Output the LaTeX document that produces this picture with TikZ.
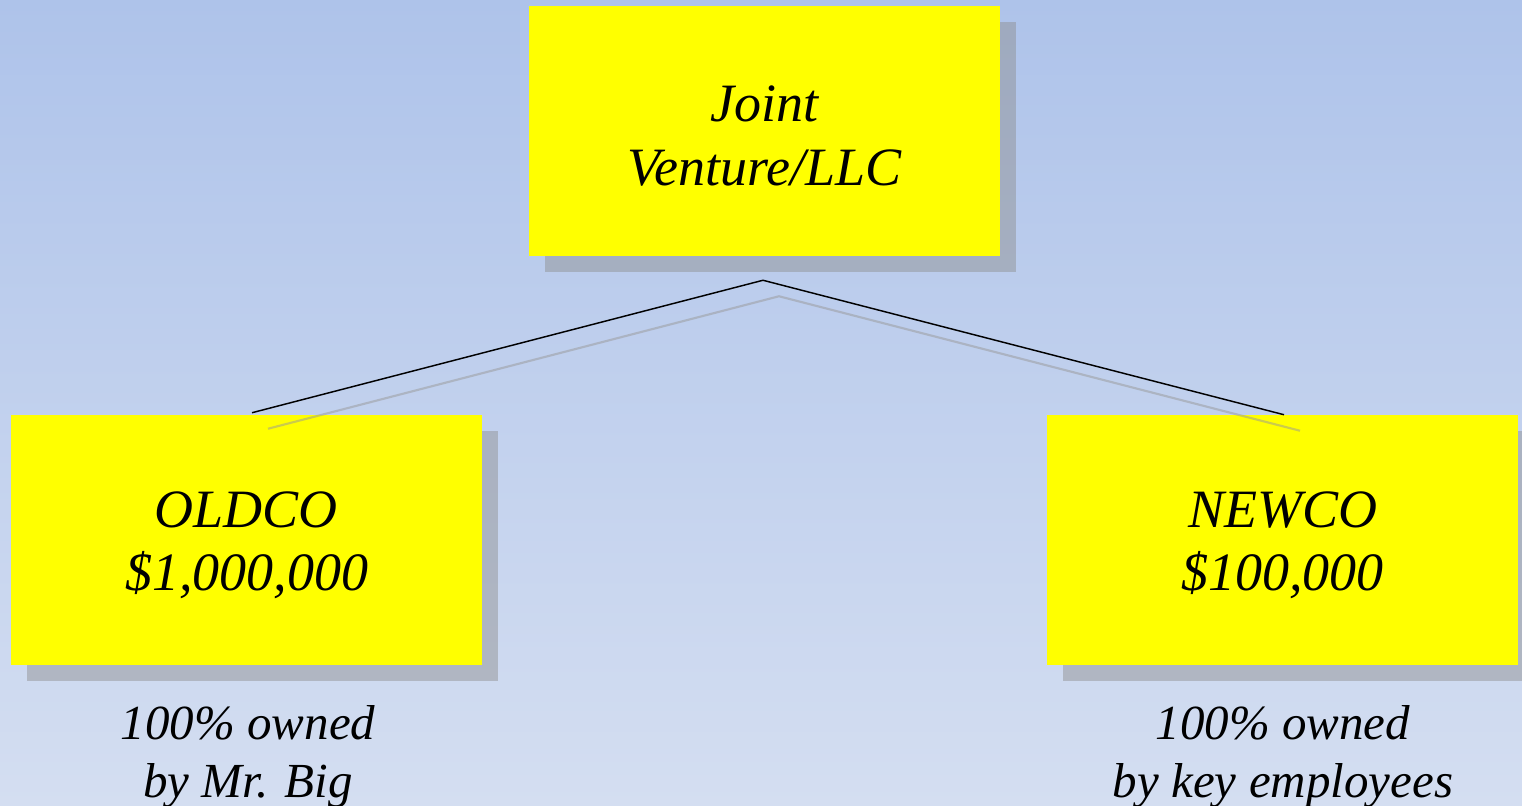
\documentclass[tikz,border=0pt]{standalone}
\usepackage{fontspec}
\setmainfont{Liberation Serif}
\usetikzlibrary{shadows}
\definecolor{bgtop}{HTML}{AEC3EA}
\definecolor{bgbot}{HTML}{D4DEF1}
\definecolor{boxyellow}{HTML}{FFFF00}
\tikzset{
  orgbox/.style={fill=boxyellow, inner sep=0pt,
    minimum width=353.25pt, minimum height=187.5pt,
    general shadow={shadow xshift=12pt, shadow yshift=-12pt,
      fill=black!45, opacity=0.45},
    label={[boxtext]center:#1}},
  boxtext/.style={inner sep=0pt, yshift=-4pt, align=center,
    font=\itshape\fontsize{40.5}{47.8}\selectfont},
  caption/.style={inner sep=0pt, anchor=north, align=center,
    font=\itshape\fontsize{36.75}{43.5}\selectfont},
  link/.style={draw=black, line width=1.1pt},
  linkshadow/.style={draw=black!40, line width=1.6pt, opacity=0.5}
}
\begin{document}
\begin{tikzpicture}[x=0.75pt,y=-0.75pt]
  \useasboundingbox (0,0) rectangle (1522,806);
  \clip (0,0) rectangle (1522,806);
  \shade[top color=bgtop, bottom color=bgbot] (0,0) rectangle (1522,806);

  % the three companies
  \node[orgbox={Joint\\Venture/LLC}]    (jv)    at (764.5,131) {};
  \node[orgbox={OLDCO\\\$1,000,000}]    (oldco) at (246.5,540) {};
  \node[orgbox={NEWCO\\\$100,000}]      (newco) at (1282.5,540) {};

  % ownership notes
  \node[caption] (oldnote) at (248,705) {100\% owned\\by Mr. Big};
  \node[caption] (newnote) at (1283,705) {100\% owned\\by key employees};

  % connectors and their shadow
  \coordinate (apex) at ([shift={(-1.5,24)}]jv.south);
  \draw[link] ([shift={(5.5,-2)}]oldco.north) -- (apex) -- ([shift={(1.5,0)}]newco.north);
  \draw[linkshadow] ([shift={(21.5,14)}]oldco.north) -- ([shift={(16,16)}]apex)
    -- ([shift={(17.5,16)}]newco.north);
\end{tikzpicture}
\end{document}
